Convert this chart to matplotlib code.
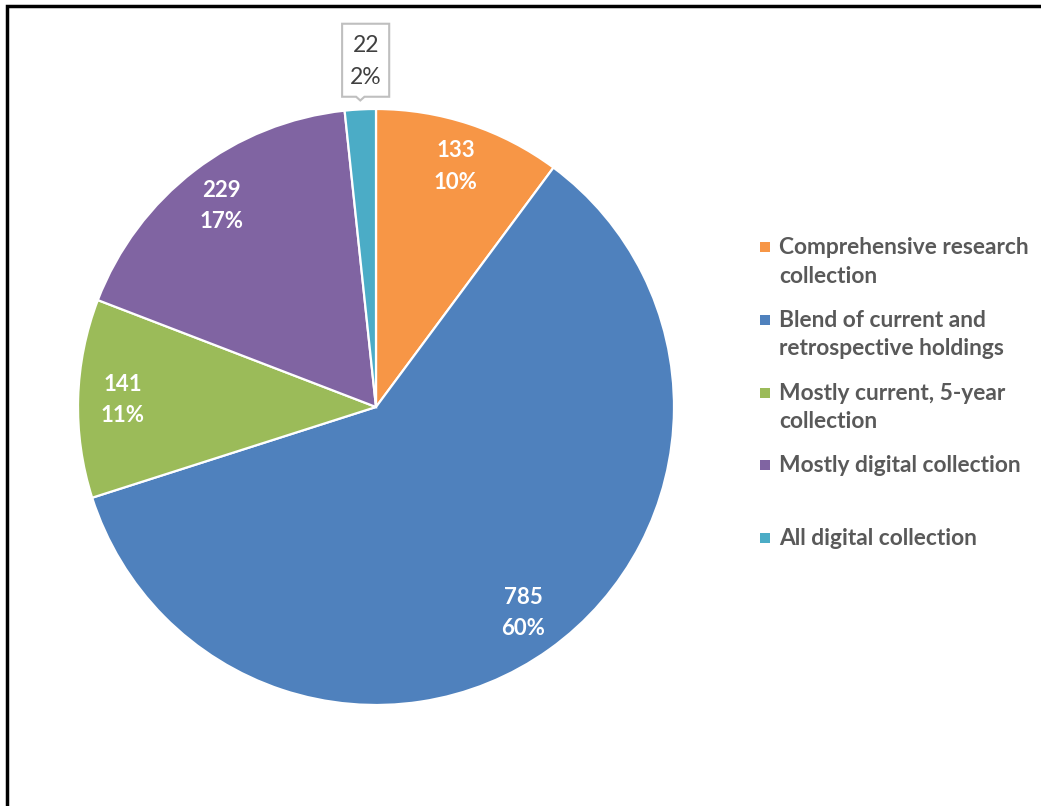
import numpy as np
import matplotlib
matplotlib.use("Agg")
import matplotlib.pyplot as plt
from matplotlib.patches import Rectangle, Polygon

plt.rcParams['font.family'] = ['Lato', 'DejaVu Sans']

categories = ['Comprehensive research\ncollection',
              'Blend of current and\nretrospective holdings',
              'Mostly current, 5-year\ncollection',
              'Mostly digital collection',
              'All digital collection']
counts = [133, 785, 141, 229, 22]
colors = ['#F79646', '#4F81BD', '#9BBB59', '#8064A2', '#4BACC6']

W, H = 1041, 806
fig = plt.figure(figsize=(W / 100, H / 100), dpi=100)

# pie axes: 600px square, pie radius ~298px
cx, cy, half = 376, 407, 300
ax = fig.add_axes([(cx - half) / W, (H - cy - half) / H, 2 * half / W, 2 * half / H])
wedges, _ = ax.pie(counts, colors=colors, startangle=90, counterclock=False,
                   radius=1.0, wedgeprops=dict(edgecolor='white', linewidth=1.6))
lim = half / 298
ax.set_xlim(-lim, lim)
ax.set_ylim(-lim, lim)
ax.set_aspect('equal')
ax.axis('off')

total = sum(counts)
for i, (w, n) in enumerate(zip(wedges, counts)):
    mid = np.deg2rad((w.theta1 + w.theta2) / 2)
    label = "%d\n%d%%" % (n, round(100.0 * n / total))
    if i < len(counts) - 1:
        r = 0.85
        ax.text(r * np.cos(mid), r * np.sin(mid), label, ha='center', va='center',
                color='white', fontsize=16, fontweight='bold', linespacing=1.6)
    else:
        # small slice gets a callout box above the pie
        tx, ty = np.cos(mid), np.sin(mid)
        bx, by = tx + 0.018, ty + 0.165
        bw, bh = 0.158, 0.245
        x0, x1 = bx - bw / 2, bx + bw / 2
        y0, y1 = by - bh / 2, by + bh / 2
        shape = [(x0, y0), (tx - 0.014, y0), (tx, ty + 0.03), (tx + 0.014, y0),
                 (x1, y0), (x1, y1), (x0, y1)]
        ax.add_patch(Polygon(shape, closed=True, facecolor='white',
                             edgecolor='#BFBFBF', linewidth=1.5, clip_on=False))
        ax.text(bx, by - 0.005, label, ha='center', va='center', color='#404040',
                fontsize=16.5, linespacing=1.65, clip_on=False)

# legend drawn as square markers + wrapped labels
for i, (lab, c) in enumerate(zip(categories, colors)):
    ly = 247 + 72.8 * i
    fig.add_artist(Rectangle(((760) / W, 1 - (ly + 5) / H), 10 / W, 10 / H,
                             transform=fig.transFigure, facecolor=c, edgecolor='none'))
    fig.text(779 / W, 1 - (ly - 10) / H, lab, ha='left', va='top', color='#595959',
             fontsize=16.4, fontweight='bold', linespacing=1.45,
             transform=fig.transFigure)

# outer frame
fig.add_artist(Rectangle((7 / W, -0.1), 1.2, 1.1 - 6 / H, transform=fig.transFigure,
                         fill=False, edgecolor='black', linewidth=2.5))

fig.savefig('out.png', dpi=100)
